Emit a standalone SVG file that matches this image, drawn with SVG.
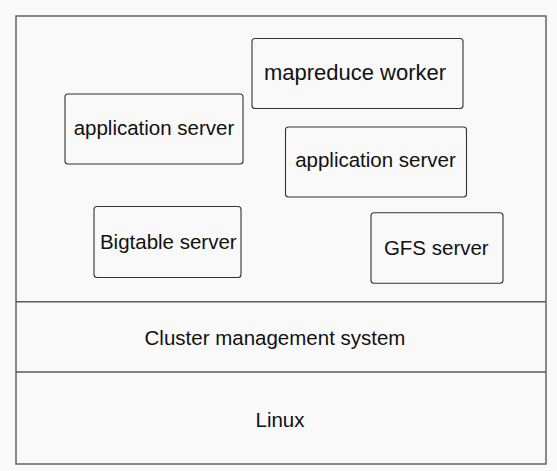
<svg xmlns="http://www.w3.org/2000/svg" width="557" height="471" viewBox="0 0 557 471">
<style>
.bg{fill:#f9f9f9}
.frame{fill:none;stroke:#5a5a5a;stroke-width:1.4}
.box{fill:#f9f9f9;stroke:#333;stroke-width:1.1}
text{font-family:"Liberation Sans",Arial,sans-serif;font-size:20.5px;fill:#111;text-anchor:middle}
</style>
<rect class="bg" x="0" y="0" width="557" height="471"/>
<g id="frame">
<rect class="frame" x="16" y="16" width="530" height="448"/>
</g>
<g id="connectors">
<line class="frame" x1="16" y1="301.7" x2="546" y2="301.7"/>
<line class="frame" x1="16" y1="372" x2="546" y2="372"/>
</g>
<g id="app-left">
<rect class="box" x="65" y="94" width="178" height="70" rx="3"/>
<text x="154" y="134.5">application server</text>
</g>
<g id="mapreduce">
<rect class="box" x="252" y="38.5" width="211" height="70" rx="3"/>
<text x="355" y="80" style="font-size:22px">mapreduce worker</text>
</g>
<g id="app-right">
<rect class="box" x="285.5" y="127" width="181" height="70" rx="3"/>
<text x="375.5" y="166.7">application server</text>
</g>
<g id="bigtable">
<rect class="box" x="94" y="206.5" width="147" height="71" rx="3"/>
<text x="168.3" y="249.3">Bigtable server</text>
</g>
<g id="gfs">
<rect class="box" x="371" y="212.7" width="132" height="70.6" rx="3"/>
<text x="436.3" y="255">GFS server</text>
</g>
<g id="cluster">
<text x="275" y="345.3">Cluster management system</text>
</g>
<g id="linux">
<text x="280" y="426.7">Linux</text>
</g>
</svg>
